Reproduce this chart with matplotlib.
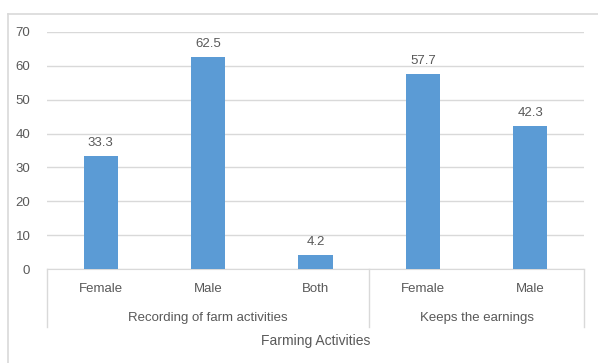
import matplotlib.pyplot as plt
from matplotlib.lines import Line2D

# Data
categories = ["Female", "Male", "Both", "Female", "Male"]
values = [33.3, 62.5, 4.2, 57.7, 42.3]
groups = ["Recording of farm activities", "Keeps the earnings"]
group_sizes = [3, 2]
axis_title = "Farming Activities"

grey = "#595959"
plt.rcParams['font.family'] = ['Liberation Sans', 'DejaVu Sans']

W, H = 598, 363
fig = plt.figure(figsize=(W / 100, H / 100), dpi=100)
left, right, top, base = 47, 584, 32, 269
ax = fig.add_axes([left / W, 1 - base / H, (right - left) / W, (base - top) / H])

x = list(range(len(categories)))
bars = ax.bar(x, values, width=0.32, color="#5B9BD5", zorder=3)
for xi, v in zip(x, values):
    ax.annotate(f"{v}", (xi, v), xytext=(0, 5), textcoords="offset points",
                ha="center", va="bottom", fontsize=9.5, color=grey)

ax.set_xlim(-0.5, len(categories) - 0.5)
ax.set_ylim(0, 70)
ax.set_yticks(range(0, 71, 10))
ax.grid(axis="y", color="#d9d9d9", linewidth=1, zorder=0)
for s in ["top", "right", "left"]:
    ax.spines[s].set_visible(False)
ax.spines["bottom"].set_color("#d9d9d9")
ax.tick_params(axis="y", length=0, pad=12, labelsize=9.5, labelcolor=grey)
ax.set_xticks(x)
ax.set_xticklabels(categories)
ax.tick_params(axis="x", length=0, pad=10, labelsize=9.5, labelcolor=grey)

# multi-level category axis
ph = base - top
y_sep = -(327 - base) / ph
y_grp = -(318 - base) / ph
bt = ax.get_xaxis_transform()
start = -0.5
ax.plot([start, start], [0, y_sep], color="#d9d9d9", lw=1, transform=bt, clip_on=False)
for name, n in zip(groups, group_sizes):
    end = start + n
    ax.plot([end, end], [0, y_sep], color="#d9d9d9", lw=1, transform=bt, clip_on=False)
    ax.text((start + end) / 2, y_grp, name, transform=bt, ha="center", va="center",
            fontsize=9.5, color=grey)
    start = end

fig.text((left + right) / 2 / W, 1 - 341 / H, axis_title, ha="center", va="center",
         fontsize=10, color=grey)

# chart frame (only left and top edges are inside the picture)
fx, fy = 7.5 / W, 1 - 13.5 / H
fig.lines.append(Line2D([fx, fx], [0, fy], transform=fig.transFigure,
                        color="#d9d9d9", lw=1.2))
fig.lines.append(Line2D([fx, 1], [fy, fy], transform=fig.transFigure,
                        color="#d9d9d9", lw=1.2))

fig.savefig("out.png", dpi=100)
